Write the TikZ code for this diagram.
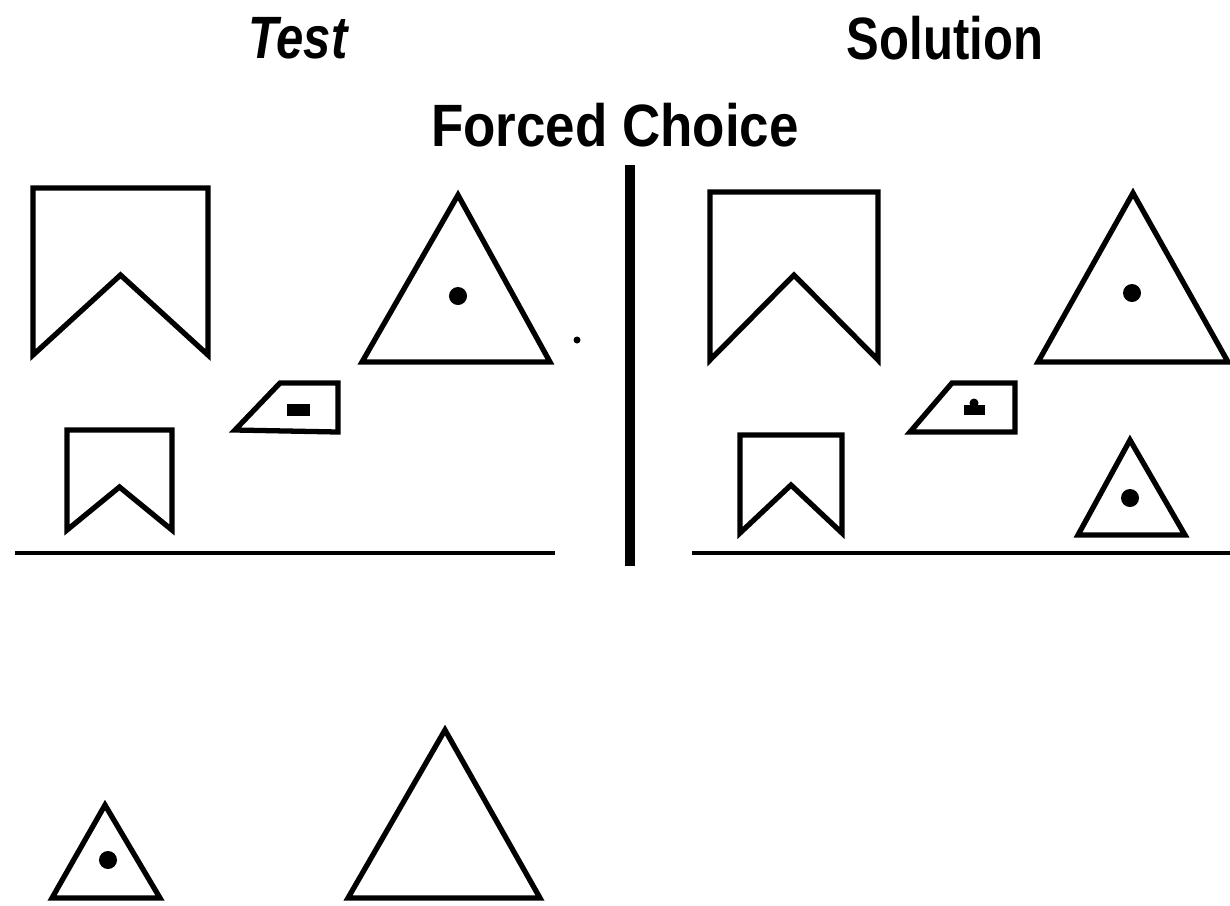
\documentclass[tikz,border=0pt]{standalone}
\usepackage{fontspec}
\setmainfont{Liberation Sans}
\usepackage{tikz}
\usetikzlibrary{positioning}
\tikzset{
  outline/.style={draw=black,line width=1.5pt,line join=miter},
  groundline/.style={draw=black,line width=1.3pt},
  divider/.style={draw=black,line width=2.6pt},
  spot/.style={fill=black},
  heading/.style={font=\bfseries\fontsize{17}{20}\selectfont,inner sep=0pt,xscale=0.82}
}
% notched box: left x, right x, top y, bottom y, apex y
\newcommand{\notchbox}[5]{%
  \draw[outline] (#1,#3) -- (#2,#3) -- (#2,#4) -- ({(#1+#2)/2},#5) -- (#1,#4) -- cycle;}
% triangle: apex x, apex y, left x, right x, base y
\newcommand{\tri}[5]{%
  \draw[outline] (#1,#2) -- (#4,#5) -- (#3,#5) -- cycle;}

\begin{document}
\begin{tikzpicture}[x=0.01cm,y=-0.01cm]
  \useasboundingbox (0,0) rectangle (1230,905);

  % headings
  \node[heading,font=\bfseries\itshape\fontsize{17}{20}\selectfont] (test) at (298,38) {Test};
  \node[heading] (solution) at (945,38) {Solution};
  \node[heading,xscale=1.08] (forced) at (615,125) {Forced Choice};

  % divider
  \draw[divider] (630,165) -- (630,566);

  % left panel
  \notchbox{33}{208}{188}{355}{275}
  \tri{458}{195}{362}{550}{362}
  \fill[spot] (458,296) circle (0.09cm);
  \fill[spot] (577,340) circle (0.035cm);
  \draw[outline] (235,430) -- (280,383) -- (338,383) -- (338,432) -- cycle;
  \fill[spot] (287,404) rectangle (310,416);
  \notchbox{67}{172}{430}{530}{487}
  \draw[groundline] (15,553) -- (555,553);

  % right panel
  \notchbox{710}{878}{192}{360}{275}
  \tri{1133}{193}{1038}{1228}{362}
  \fill[spot] (1132,293) circle (0.09cm);
  \draw[outline] (910,432) -- (952,383) -- (1015,383) -- (1015,432) -- cycle;
  \fill[spot] (964,405) rectangle (985,415);
  \fill[spot] (974,403) circle (0.045cm);
  \notchbox{740}{842}{435}{533}{485}
  \tri{1130}{440}{1078}{1185}{535}
  \fill[spot] (1130,498) circle (0.09cm);
  \draw[groundline] (692,553) -- (1230,553);

  % choices
  \tri{105}{805}{52}{160}{898}
  \fill[spot] (108,860) circle (0.09cm);
  \tri{445}{730}{348}{540}{898}
\end{tikzpicture}
\end{document}
